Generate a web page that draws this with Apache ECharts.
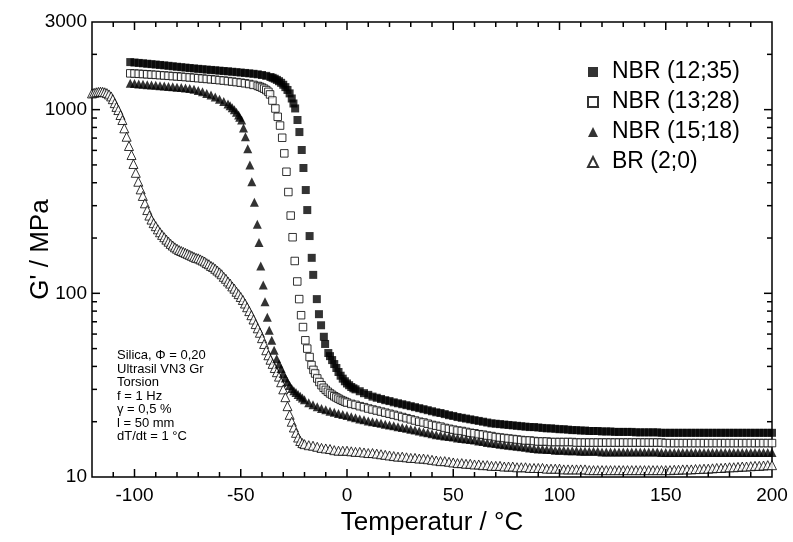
<!DOCTYPE html>
<html>
<head>
<meta charset="utf-8">
<script src="https://cdn.jsdelivr.net/npm/echarts@6/dist/echarts.min.js"></script>
<style>html,body{margin:0;padding:0;background:#fff}#c{width:793px;height:542px}</style>
</head>
<body>
<div id="c"></div>
<script>
// ---- Data ----
const seriesNames = ['NBR (12;35)', 'NBR (13;28)', 'NBR (15;18)', 'BR (2;0)'];

const nbr1235 = [[-102,1815],[-100,1805],[-98,1796],[-96,1787],[-94,1778],[-92,1769],[-90,1760],[-88,1751],[-86,1742],[-84,1732],[-82,1722],[-80,1712],[-78,1703],[-76,1694],[-74,1685],[-72,1676],[-70,1668],[-68,1660],[-66,1652],[-64,1645],[-62,1638],[-60,1630],[-58,1623],[-56,1616],[-54,1608],[-52,1600],[-50,1592],[-48,1584],[-46,1576],[-44,1567],[-42,1557],[-40,1544],[-38,1527],[-36,1505],[-35,1490],[-34,1473],[-33,1452],[-32,1428],[-31,1400],[-30,1366],[-29,1326],[-28,1280],[-27,1226],[-26,1150],[-25.2,1080],[-24.4,1015],[-23.3,878],[-22.4,755],[-21.3,603],[-20.5,481],[-19.4,365],[-18.7,284],[-17.6,205],[-16.6,156],[-15.9,126],[-14.2,93],[-13.2,77],[-12.2,67],[-10.9,58],[-10.3,53],[-8.8,47.3],[-8,45.5],[-7,43.3],[-6,41.2],[-5,39.2],[-4,37.3],[-3,35.6],[-2,34.3],[-1,33.2],[0,32.3],[1,31.6],[2,30.9],[3,30.4],[4,30.0],[6,29.3],[8,28.6],[10,28.0],[12,27.4],[14,27.0],[16,26.6],[18,26.2],[20,25.9],[22,25.5],[24,25.2],[26,24.9],[28,24.6],[30,24.3],[32,24.0],[34,23.7],[36,23.4],[38,23.1],[40,22.8],[42,22.5],[44,22.3],[46,22.0],[48,21.7],[50,21.5],[52,21.2],[54,21.0],[56,20.8],[58,20.6],[60,20.4],[62,20.2],[64,20.0],[66,19.8],[68,19.6],[70,19.5],[72,19.4],[74,19.3],[76,19.2],[78,19.1],[80,19.0],[82,18.9],[84,18.8],[86,18.7],[88,18.7],[90,18.6],[92,18.5],[94,18.4],[96,18.4],[98,18.3],[100,18.2],[102,18.2],[104,18.1],[106,18.0],[108,18.0],[110,17.9],[112,17.9],[114,17.8],[116,17.8],[118,17.8],[120,17.7],[122,17.7],[124,17.7],[126,17.6],[128,17.6],[130,17.6],[132,17.6],[134,17.6],[136,17.5],[138,17.5],[140,17.5],[142,17.5],[144,17.5],[146,17.5],[148,17.4],[150,17.4],[152,17.4],[154,17.4],[156,17.4],[158,17.4],[160,17.4],[162,17.4],[164,17.4],[166,17.4],[168,17.4],[170,17.4],[172,17.4],[174,17.4],[176,17.4],[178,17.4],[180,17.4],[182,17.4],[184,17.4],[186,17.4],[188,17.4],[190,17.4],[192,17.4],[194,17.4],[196,17.4],[198,17.4],[200,17.4]];

const nbr1328 = [[-102,1576],[-100,1572],[-98,1567],[-96,1562],[-94,1557],[-92,1551],[-90,1546],[-88,1540],[-86,1534],[-84,1528],[-82,1522],[-80,1516],[-78,1510],[-76,1504],[-74,1497],[-72,1490],[-70,1483],[-68,1476],[-66,1469],[-64,1462],[-62,1455],[-60,1447],[-58,1439],[-56,1430],[-54,1421],[-52,1412],[-50,1402],[-48,1391],[-46,1379],[-44,1364],[-42,1346],[-41,1333],[-40,1318],[-39,1300],[-38,1278],[-37,1250],[-36.2,1210],[-35.1,1121],[-33.7,1014],[-32.6,914],[-31.5,819],[-30.5,703],[-29.5,578],[-28.5,459],[-27.6,356],[-26.5,265],[-25.6,202],[-24.6,150],[-23.4,116],[-22.5,93],[-21.6,76],[-20.7,65.5],[-19.6,55.5],[-18.7,50],[-17.6,45],[-16.7,40.7],[-15.8,38.3],[-15,36.6],[-14,34.4],[-13,32.9],[-12,31.6],[-11,30.6],[-10,29.8],[-9,29.1],[-8,28.5],[-7,28.0],[-6,27.5],[-5,27.1],[-4,26.7],[-3,26.3],[-2,26.0],[-1,25.7],[0,25.4],[2,25.0],[4,24.7],[6,24.3],[8,24.0],[10,23.6],[12,23.3],[14,23.0],[16,22.7],[18,22.4],[20,22.1],[22,21.8],[24,21.5],[26,21.2],[28,20.9],[30,20.6],[32,20.3],[34,20.0],[36,19.8],[38,19.5],[40,19.2],[42,19.0],[44,18.8],[46,18.5],[48,18.3],[50,18.1],[52,17.9],[54,17.8],[56,17.6],[58,17.4],[60,17.3],[62,17.1],[64,17.0],[66,16.8],[68,16.7],[70,16.5],[72,16.4],[74,16.3],[76,16.2],[78,16.1],[80,16.0],[82,15.9],[84,15.8],[86,15.8],[88,15.7],[90,15.6],[92,15.6],[94,15.6],[96,15.5],[98,15.5],[100,15.5],[102,15.5],[104,15.5],[106,15.5],[108,15.4],[110,15.4],[112,15.4],[114,15.4],[116,15.4],[118,15.4],[120,15.4],[122,15.4],[124,15.4],[126,15.4],[128,15.4],[130,15.4],[132,15.4],[134,15.4],[136,15.4],[138,15.4],[140,15.4],[142,15.4],[144,15.4],[146,15.4],[148,15.4],[150,15.3],[152,15.3],[154,15.3],[156,15.3],[158,15.3],[160,15.3],[162,15.3],[164,15.3],[166,15.3],[168,15.3],[170,15.3],[172,15.3],[174,15.3],[176,15.3],[178,15.3],[180,15.3],[182,15.3],[184,15.3],[186,15.3],[188,15.3],[190,15.3],[192,15.3],[194,15.3],[196,15.3],[198,15.3],[200,15.3]];

const nbr1518 = [[-102,1391],[-100,1386],[-98,1380],[-96,1374],[-94,1368],[-92,1362],[-90,1356],[-88,1350],[-86,1344],[-84,1338],[-82,1332],[-80,1325],[-78,1318],[-76,1311],[-74,1304],[-72,1290],[-70,1272],[-68,1250],[-66,1226],[-64,1200],[-62,1170],[-60,1140],[-58,1108],[-56,1072],[-55,1050],[-54,1025],[-53,998],[-52,968],[-51,935],[-50.5,910],[-49.6,878],[-48.7,794],[-47.8,712],[-46.7,612],[-45.7,499],[-44.8,405],[-43.6,313],[-42.2,238],[-41.4,189],[-40.6,141],[-39.4,111],[-38.6,90],[-37.5,74],[-36.6,63],[-35.4,55.5],[-34.3,49],[-33.1,44],[-32,41.2],[-31,39],[-30,36.6],[-29,34.6],[-28,33.0],[-27,31.5],[-26,30.3],[-25,29.5],[-24,28.8],[-23,28.1],[-22,27.5],[-21,26.9],[-20,26.3],[-18,25.4],[-16,24.7],[-14,24.1],[-12,23.6],[-10,23.2],[-8,22.8],[-6,22.5],[-4,22.2],[-2,21.9],[0,21.6],[2,21.3],[4,21.0],[6,20.7],[8,20.5],[10,20.2],[12,20.0],[14,19.8],[16,19.6],[18,19.4],[20,19.2],[22,19.0],[24,18.8],[26,18.6],[28,18.4],[30,18.2],[32,18.0],[34,17.8],[36,17.6],[38,17.4],[40,17.2],[42,17.0],[44,16.9],[46,16.7],[48,16.6],[50,16.5],[52,16.3],[54,16.2],[56,16.1],[58,16.0],[60,15.9],[62,15.7],[64,15.6],[66,15.4],[68,15.3],[70,15.2],[72,15.1],[74,15.0],[76,14.9],[78,14.8],[80,14.7],[82,14.6],[84,14.5],[86,14.4],[88,14.3],[90,14.2],[92,14.2],[94,14.1],[96,14.1],[98,14.0],[100,14.0],[102,14.0],[104,13.9],[106,13.9],[108,13.9],[110,13.8],[112,13.8],[114,13.8],[116,13.8],[118,13.8],[120,13.7],[122,13.7],[124,13.7],[126,13.7],[128,13.7],[130,13.7],[132,13.7],[134,13.7],[136,13.7],[138,13.7],[140,13.7],[142,13.7],[144,13.7],[146,13.7],[148,13.6],[150,13.6],[152,13.6],[154,13.6],[156,13.6],[158,13.6],[160,13.6],[162,13.6],[164,13.6],[166,13.6],[168,13.6],[170,13.6],[172,13.6],[174,13.6],[176,13.6],[178,13.6],[180,13.6],[182,13.6],[184,13.6],[186,13.6],[188,13.6],[190,13.6],[192,13.6],[194,13.6],[196,13.6],[198,13.6],[200,13.6]];

const br20 = [[-120,1225],[-119,1235],[-118,1243],[-117,1249],[-116,1252],[-115,1250],[-114,1243],[-113,1230],[-112,1210],[-111,1180],[-110.2,1140],[-109.3,1085],[-108.5,1035],[-107.6,995],[-106.6,935],[-105.7,878],[-104.8,791],[-103.7,712],[-102.6,634],[-101.4,566],[-100.5,506],[-99.4,453],[-98.2,405],[-97.1,368],[-96.1,339],[-95.1,309],[-94,284],[-93,265],[-92,252],[-91,241],[-90,232],[-89,223],[-88,215],[-87,208],[-86,202],[-85,196],[-84,191],[-83,186],[-82,182],[-81,178],[-80,175],[-79,172],[-78,170],[-77,168],[-76,166],[-75,164],[-74,162],[-73,160],[-72,158],[-71,156],[-70,155],[-69,153],[-68,151],[-67,149],[-66,146],[-65,144],[-64,141],[-63,139],[-62,136],[-61,133],[-60,130],[-59,127],[-58,123],[-57,120],[-56,116],[-55,113],[-54,109],[-53,106],[-52,102],[-51,99],[-50,95.5],[-49,92],[-48,88],[-47,84],[-46,80],[-45,76],[-44,72],[-43,68],[-42,64.5],[-41,61],[-40,57],[-39,53],[-38,49],[-37,46],[-36,43.5],[-35,41.3],[-34,39.2],[-33,37.2],[-32,35.2],[-31,32.8],[-30,30.0],[-29,27.2],[-28,24.3],[-27,21.8],[-26,20.0],[-25,18.6],[-24,17.4],[-23,16.4],[-22,15.7],[-21,15.3],[-20,15.1],[-18,14.9],[-16,14.8],[-14,14.6],[-12,14.4],[-10,14.3],[-8,14.2],[-6,14.0],[-4,13.9],[-2,13.9],[0,13.9],[2,13.8],[4,13.7],[6,13.7],[8,13.6],[10,13.5],[12,13.5],[14,13.4],[16,13.3],[18,13.2],[20,13.1],[22,13.0],[24,12.9],[26,12.9],[28,12.8],[30,12.7],[32,12.7],[34,12.6],[36,12.6],[38,12.5],[40,12.4],[42,12.3],[44,12.2],[46,12.2],[48,12.1],[50,12.0],[52,11.9],[54,11.9],[56,11.8],[58,11.8],[60,11.7],[62,11.7],[64,11.6],[66,11.6],[68,11.5],[70,11.5],[72,11.5],[74,11.4],[76,11.4],[78,11.4],[80,11.3],[82,11.3],[84,11.3],[86,11.2],[88,11.2],[90,11.2],[92,11.2],[94,11.1],[96,11.1],[98,11.1],[100,11.1],[102,11.0],[104,11.0],[106,11.0],[108,11.0],[110,11.0],[112,11.0],[114,10.9],[116,10.9],[118,10.9],[120,10.9],[122,10.9],[124,10.9],[126,10.9],[128,10.9],[130,10.9],[132,10.9],[134,10.9],[136,10.9],[138,10.9],[140,10.9],[142,10.9],[144,10.9],[146,10.9],[148,10.9],[150,10.9],[152,10.9],[154,10.95],[156,10.95],[158,11.0],[160,11.0],[162,11.0],[164,11.05],[166,11.05],[168,11.1],[170,11.1],[172,11.15],[174,11.2],[176,11.2],[178,11.25],[180,11.3],[182,11.3],[184,11.35],[186,11.4],[188,11.4],[190,11.45],[192,11.5],[194,11.5],[196,11.55],[198,11.6],[200,11.6]];

// ---- Axes / ticks ----
const xTickLabels = [-100, -50, 0, 50, 100, 150, 200];
const yTickLabels = [10, 100, 1000, 3000];
const xMajorTicks = [-100, -50, 0, 50, 100, 150];
const xMinorTicks = [-110,-90,-80,-70,-60,-40,-30,-20,-10,10,20,30,40,60,70,80,90,110,120,130,140,160,170,180,190];
const yMajorTicks = [100, 1000];
const yMinorTicks = [20,30,40,50,60,70,80,90,200,300,400,500,600,700,800,900,2000];

const annotationLines = ['Silica, \u03A6 = 0,20', 'Ultrasil VN3 Gr', 'Torsion', 'f = 1 Hz', '\u03B3 = 0,5 %', 'l = 50 mm', 'dT/dt = 1 \u00B0C'];

const FONT = '"Liberation Sans", Arial, Helvetica, sans-serif';
const X_MIN = -120, X_MAX = 200, Y_MIN = 10, Y_MAX = 3000;

const tickData = [];
xMajorTicks.forEach(v => tickData.push([v, Y_MIN, 8, 0]));
xMinorTicks.forEach(v => tickData.push([v, Y_MIN, 5, 0]));
yMajorTicks.forEach(v => tickData.push([X_MIN, v, 8, 1]));
yMinorTicks.forEach(v => tickData.push([X_MIN, v, 5, 1]));

const chart = echarts.init(document.getElementById('c'), null, {renderer: 'canvas'});

const openStyle = {color: '#ffffff', borderColor: '#000000', borderWidth: 1};
const fillStyle = {color: '#000000', borderColor: '#000000', borderWidth: 0};

const option = {
  animation: false,
  backgroundColor: '#ffffff',
  grid: {left: 92, top: 22, width: 680, height: 455, show: true, borderColor: '#000', borderWidth: 1.5, backgroundColor: 'transparent'},
  xAxis: {
    type: 'value', min: X_MIN, max: X_MAX, interval: 10,
    name: 'Temperatur / \u00B0C', nameLocation: 'middle', nameGap: 33, nameMoveOverlap: false,
    nameTextStyle: {fontFamily: FONT, fontSize: 26, color: '#000'},
    axisLine: {show: false}, axisTick: {show: false}, splitLine: {show: false},
    axisLabel: {
      fontFamily: FONT, fontSize: 19, color: '#000', margin: 9,
      formatter: v => (xTickLabels.indexOf(Math.round(v)) >= 0 ? String(Math.round(v)) : '')
    }
  },
  yAxis: {
    type: 'log', logBase: 10, min: Y_MIN, max: Y_MAX,
    name: "G' / MPa", nameLocation: 'middle', nameGap: 38, nameRotate: 90, nameMoveOverlap: false,
    nameTextStyle: {fontFamily: FONT, fontSize: 26, color: '#000'},
    axisLine: {show: false}, axisTick: {show: false}, splitLine: {show: false}, minorTick: {show: false},
    axisLabel: {
      fontFamily: FONT, fontSize: 19, color: '#000', margin: 5, showMaxLabel: true, showMinLabel: true,
      formatter: v => (yTickLabels.indexOf(Math.round(v)) >= 0 ? String(Math.round(v)) : '')
    }
  },
  legend: {
    orient: 'vertical', left: 582, top: 55, itemWidth: 10, itemHeight: 10, itemGap: 6,
    data: seriesNames,
    textStyle: {fontFamily: FONT, fontSize: 23, color: '#000', lineHeight: 24, padding: [0, 0, 0, 9]}
  },
  graphic: [{
    type: 'text', left: 117, top: 349, z: 100,
    style: {text: annotationLines.join('\n'), fontFamily: FONT, fontSize: 13, lineHeight: 13.5, fill: '#000'}
  }],
  series: [
    {name: seriesNames[3], type: 'scatter', data: br20, symbol: 'triangle', symbolSize: 9, itemStyle: openStyle, z: 2},
    {name: seriesNames[2], type: 'scatter', data: nbr1518, symbol: 'triangle', symbolSize: 9, itemStyle: fillStyle, z: 3},
    {name: seriesNames[1], type: 'scatter', data: nbr1328, symbol: 'rect', symbolSize: 7.5, itemStyle: openStyle, z: 4},
    {name: seriesNames[0], type: 'scatter', data: nbr1235, symbol: 'rect', symbolSize: 8, itemStyle: fillStyle, z: 5},
    {
      name: 'ticks', type: 'custom', data: tickData, z: 10, silent: true,
      renderItem: function (params, api) {
        const cs = params.coordSys;
        const len = api.value(2);
        const isY = api.value(3) === 1;
        const p = api.coord([api.value(0), api.value(1)]);
        const st = {stroke: '#000', lineWidth: 1.5};
        if (!isY) {
          const x = p[0], b = cs.y + cs.height, t = cs.y;
          return {type: 'group', children: [
            {type: 'line', shape: {x1: x, y1: b, x2: x, y2: b - len}, style: st},
            {type: 'line', shape: {x1: x, y1: t, x2: x, y2: t + len}, style: st}
          ]};
        } else {
          const y = p[1], l = cs.x, r = cs.x + cs.width;
          return {type: 'group', children: [
            {type: 'line', shape: {x1: l, y1: y, x2: l + len, y2: y}, style: st},
            {type: 'line', shape: {x1: r, y1: y, x2: r - len, y2: y}, style: st}
          ]};
        }
      }
    }
  ]
};
chart.setOption(option);
</script>
</body>
</html>
